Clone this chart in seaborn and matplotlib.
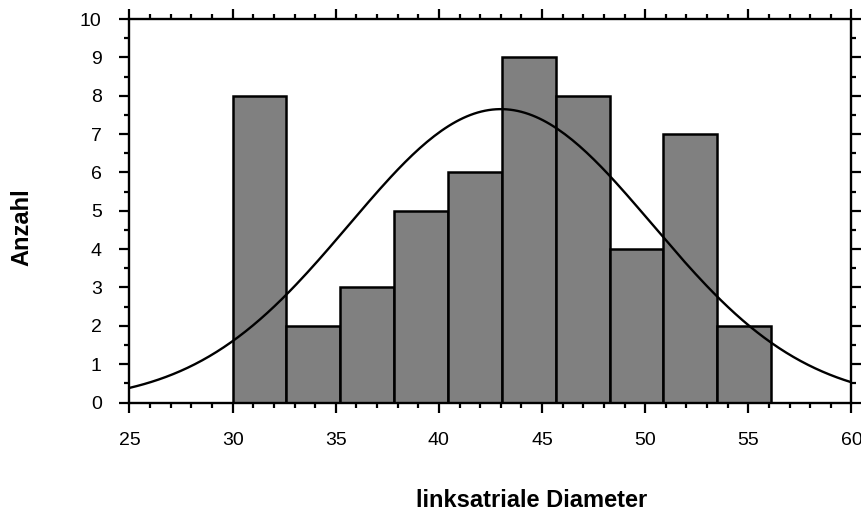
import numpy as np
import pandas as pd
import matplotlib
matplotlib.use("Agg")
import matplotlib.pyplot as plt
from matplotlib.ticker import MultipleLocator
import seaborn as sns

# Histogram of left atrial diameter with fitted normal curve
bin_edges = [30.0, 32.61, 35.22, 37.83, 40.44, 43.05, 45.66, 48.27, 50.88, 53.49, 56.1]
counts = [8, 2, 3, 5, 6, 9, 8, 4, 7, 2]

# Parameters of the fitted normal distribution
fit_mean = 43.0
fit_sd = 7.35

x_ticks = [25, 30, 35, 40, 45, 50, 55, 60]
y_ticks = list(range(0, 11))

sns.set_theme(style="white", rc={"text.color": "black", "axes.labelcolor": "black",
                                 "xtick.color": "black", "ytick.color": "black"})
plt.rcParams["font.family"] = ["Liberation Sans", "DejaVu Sans"]

fig = plt.figure(figsize=(8.62, 5.11), dpi=100)
ax = fig.add_axes([0.1502, 0.2123, 0.8376, 0.7505])

centers = [(a + b) / 2 for a, b in zip(bin_edges[:-1], bin_edges[1:])]
df = pd.DataFrame({"diameter": centers, "anzahl": counts})
sns.histplot(data=df, x="diameter", weights="anzahl", bins=bin_edges,
             color="#808080", alpha=1.0, edgecolor="black", linewidth=1.8, ax=ax)

# Normal curve scaled to the histogram (n * bin width)
n_total = sum(counts)
bin_width = bin_edges[1] - bin_edges[0]
xs = np.linspace(25, 60, 200)
ys = n_total * bin_width / (fit_sd * np.sqrt(2 * np.pi)) * np.exp(-0.5 * ((xs - fit_mean) / fit_sd) ** 2)
sns.lineplot(x=xs, y=ys, color="black", linewidth=1.7, ax=ax)

ax.set_xlim(25, 60)
ax.set_ylim(0, 10)
ax.set_xticks(x_ticks)
ax.set_yticks(y_ticks)
ax.xaxis.set_minor_locator(MultipleLocator(1))
ax.yaxis.set_minor_locator(MultipleLocator(0.5))
ax.tick_params(which="both", direction="out", top=True, right=True,
               bottom=True, left=True, width=1.6, color="black",
               labeltop=False, labelright=False, labelcolor="black")
ax.tick_params(which="major", length=7, labelsize=14)
ax.tick_params(which="minor", length=3.6)
ax.tick_params(axis="x", which="major", pad=14)
ax.tick_params(axis="y", which="major", pad=13)
for s in ax.spines.values():
    s.set_visible(True)
    s.set_color("black")
    s.set_linewidth(1.7)

ax.set_xlabel("")
ax.set_ylabel("")
fig.text(0.6166, 1 - 507 / 511, "linksatriale Diameter", ha="center", va="baseline",
         fontsize=17, fontweight="bold", color="black")
fig.text(0.025, 0.556, "Anzahl", ha="center", va="center", rotation=90,
         fontsize=17, fontweight="bold", color="black")

fig.savefig("out.png", dpi=100)
